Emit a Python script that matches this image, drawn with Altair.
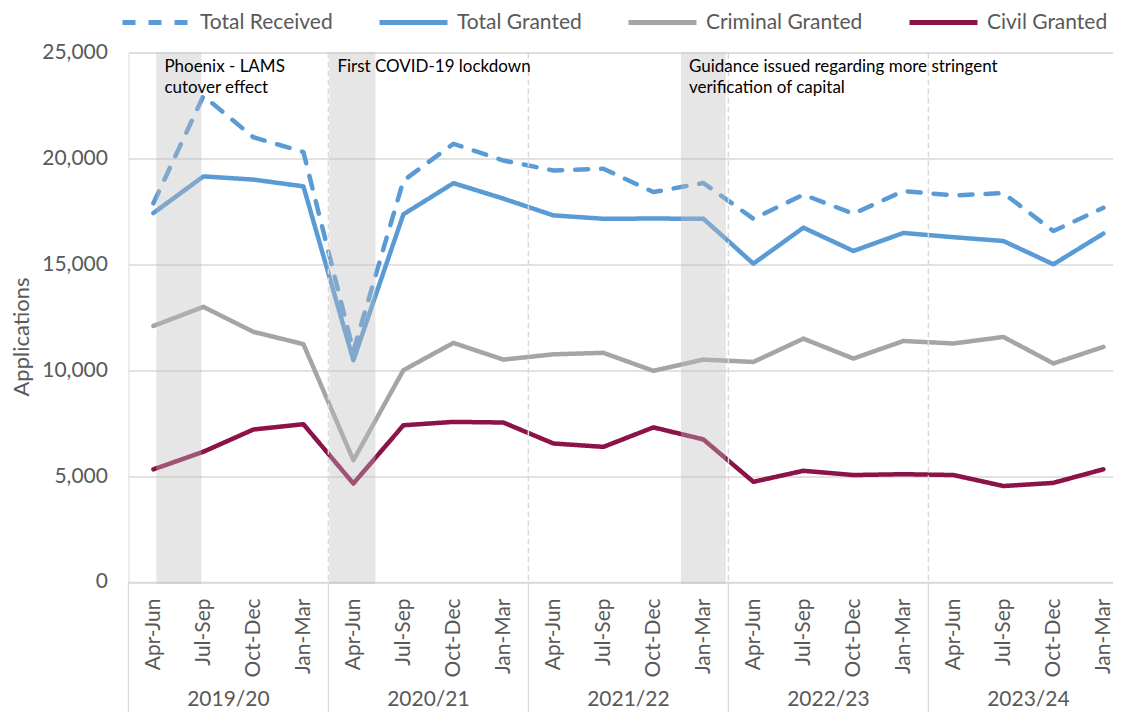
import altair as alt
import pandas as pd

# ---------------- data ----------------
quarters = ["Apr-Jun", "Jul-Sep", "Oct-Dec", "Jan-Mar"]
years = ["2019/20", "2020/21", "2021/22", "2022/23", "2023/24"]
series_names = ["Total Received", "Total Granted", "Criminal Granted", "Civil Granted"]
series_colors = ["#5B9BD5", "#5B9BD5", "#A5A5A5", "#8C1349"]

total_received = [17880, 22950, 21000, 20300, 10900, 18950, 20690, 19900, 19430, 19510,
                  18410, 18840, 17150, 18290, 17390, 18460, 18250, 18360, 16570, 17670]
total_granted = [17420, 19150, 19000, 18680, 10470, 17360, 18830, 18100, 17310, 17150,
                 17160, 17150, 15030, 16730, 15630, 16480, 16280, 16100, 15000, 16450]
criminal_granted = [12090, 12990, 11810, 11230, 5750, 10000, 11290, 10500, 10750, 10820,
                    9970, 10500, 10390, 11490, 10550, 11380, 11260, 11570, 10320, 11100]
civil_granted = [5320, 6150, 7200, 7450, 4650, 7400, 7560, 7530, 6540, 6380,
                 7300, 6730, 4730, 5250, 5050, 5090, 5050, 4530, 4680, 5320]

event_start = [0.06, 3.52, 10.55]
event_end = [0.96, 4.44, 11.45]
event_label = ["Phoenix - LAMS\ncutover effect",
               "First COVID-19 lockdown",
               "Guidance issued regarding more stringent\nverification of capital"]

y_ticks = [0, 5000, 10000, 15000, 20000, 25000]

# ---------------- tables ----------------
n = len(total_received)
idx = list(range(n))
rows = []
for name, vals in zip(series_names,
                      [total_received, total_granted, criminal_granted, civil_granted]):
    for i, v in enumerate(vals):
        rows.append({"i": i, "series": name, "value": v})
df = pd.DataFrame(rows)

events_df = pd.DataFrame({"start": event_start, "end": event_end, "label": event_label})
nq = len(quarters)
inner_bounds = pd.DataFrame({"b": [nq * k - 0.5 for k in range(1, len(years))]})
all_bounds = pd.DataFrame({"b": [nq * k - 0.5 for k in range(len(years))]})
year_df = pd.DataFrame({"year": years, "mid": [nq * k + (nq - 1) / 2 for k in range(len(years))]})

# ---------------- chart ----------------
FONT = "Lato"
GREY_TXT = "#595959"
GRID = "#D9D9D9"

xscale = alt.Scale(domain=[-0.5, 19.2], nice=False, zero=False)
yscale = alt.Scale(domain=[0, 25000], nice=False, zero=True)

label_expr = "[" + ",".join(f"'{q}'" for q in quarters) + "][datum.value % 4]"

legend = alt.Legend(
    title=None, orient="none", legendX=-8.4, legendY=-66.5, direction="horizontal",
    symbolType="stroke", symbolSize=4624, symbolStrokeWidth=5,
    labelFontSize=21, labelFont=FONT, labelColor=GREY_TXT, labelOffset=7,
    labelLimit=400, columnPadding=36, padding=0, columns=4, gridAlign="none",
)

lines = alt.Chart(df).mark_line(strokeWidth=4.5, strokeCap="round", strokeJoin="round").encode(
    x=alt.X("i:Q", scale=xscale, axis=alt.Axis(
        values=idx, labelExpr=label_expr, labelAngle=-90, labelFontSize=21, labelFont=FONT,
        labelColor=GREY_TXT, labelPadding=16, ticks=False, tickSize=0, domain=True,
        domainColor=GRID, domainWidth=1.3, grid=False, title=None, labelFlush=False,
        labelOverlap=False, labelBound=False)),
    y=alt.Y("value:Q", scale=yscale, axis=alt.Axis(
        values=y_ticks, format=",d", grid=True, gridColor=GRID, gridWidth=1.3,
        domain=False, ticks=False, tickSize=0, labelFontSize=21, labelFont=FONT,
        labelColor=GREY_TXT, labelPadding=21, title="Applications", titleFontSize=22,
        titleFont=FONT, titleColor=GREY_TXT, titleFontWeight="normal", titleAngle=270,
        titleX=-106.5, titleY=284, titleAlign="center", titleBaseline="middle")),
    color=alt.Color("series:N", scale=alt.Scale(domain=series_names, range=series_colors),
                    legend=legend),
    strokeDash=alt.StrokeDash("series:N", scale=alt.Scale(
        domain=series_names, range=[[13, 13], [1, 0], [1, 0], [1, 0]]), legend=legend),
    order=alt.Order("i:Q"),
)

shade = alt.Chart(events_df).mark_rect(color="#BDBDBD", opacity=0.38).encode(
    x=alt.X("start:Q", scale=xscale), x2="end:Q",
    y=alt.datum(25000), y2=alt.datum(-100),
)

seps = alt.Chart(inner_bounds).mark_rule(color=GRID, strokeWidth=1.5, strokeDash=[6, 3]).encode(
    x=alt.X("b:Q", scale=xscale), y=alt.datum(25000), y2=alt.datum(0),
)

seps_below = alt.Chart(all_bounds).mark_rule(color=GRID, strokeWidth=1.3).encode(
    x=alt.X("b:Q", scale=xscale), y=alt.value(529.5), y2=alt.value(662),
)

year_text = alt.Chart(year_df).mark_text(font=FONT, fontSize=21, color=GREY_TXT,
                                         baseline="alphabetic", align="center").encode(
    x=alt.X("mid:Q", scale=xscale), y=alt.value(654), text="year:N",
)

ann = alt.Chart(events_df).mark_text(align="left", baseline="alphabetic", dx=8, dy=19,
                                     font=FONT, fontSize=17, lineHeight=21.5,
                                     color="#000000", lineBreak="\n").encode(
    x=alt.X("start:Q", scale=xscale), y=alt.datum(25000), text="label:N",
)

chart = alt.layer(lines, shade, seps, seps_below, year_text, ann).properties(
    width=985, height=529.5,
    autosize=alt.AutoSizeParams(type="none"),
    padding={"left": 120.4, "top": 44.5, "right": 0, "bottom": 130},
).configure_view(stroke=None).configure(background="white")

chart.save("out.html", embed_options={"renderer": "svg", "actions": False})
